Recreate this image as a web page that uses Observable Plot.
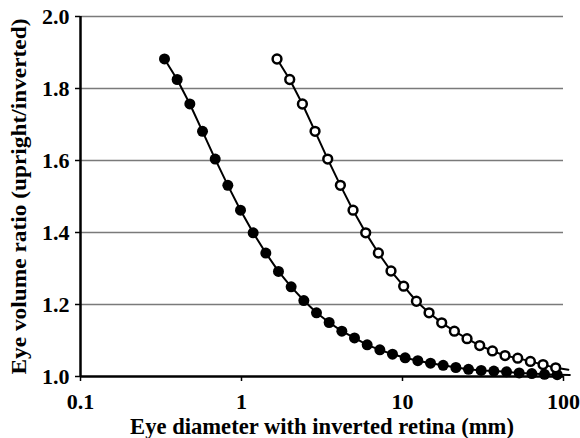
<!DOCTYPE html>
<html>
<head>
<meta charset="utf-8">
<script src="https://cdn.jsdelivr.net/npm/d3@7"></script>
<script src="https://cdn.jsdelivr.net/npm/@observablehq/plot@0.6"></script>
<style>
  html, body { margin: 0; padding: 0; background: #fff; }
  #chart svg { display: block; }
</style>
</head>
<body>
<div id="chart"></div>
<script>
// Filled circles: eye diameter (mm) and volume ratio
const filledDiameter = [0.3324, 0.3985, 0.4777, 0.5725, 0.6864, 0.8225, 0.9858, 1.1815, 1.416, 1.697,
  2.034, 2.439, 2.923, 3.503, 4.200, 5.033, 6.034, 7.233, 8.667, 10.39,
  12.45, 14.93, 17.89, 21.45, 25.70, 30.81, 36.93, 44.27, 53.05, 63.59,
  76.22, 91.36, 109.5];
const filledRatio = [1.882, 1.825, 1.757, 1.681, 1.604, 1.531, 1.462, 1.399, 1.343, 1.292,
  1.249, 1.211, 1.177, 1.150, 1.126, 1.107, 1.088, 1.074, 1.062, 1.052,
  1.044, 1.037, 1.031, 1.025, 1.020, 1.017, 1.015, 1.013, 1.010, 1.008,
  1.006, 1.005, 1.004];

// Open circles
const openDiameter = [1.662, 1.993, 2.389, 2.863, 3.432, 4.113, 4.929, 5.908, 7.08, 8.485,
  10.17, 12.2, 14.62, 17.52, 21.0, 25.17, 30.17, 36.17, 43.34, 51.95,
  62.27, 74.63, 89.45, 107.2];
const openRatio = [1.882, 1.825, 1.757, 1.681, 1.604, 1.531, 1.462, 1.399, 1.343, 1.293,
  1.251, 1.209, 1.177, 1.149, 1.126, 1.105, 1.086, 1.071, 1.058, 1.051,
  1.042, 1.033, 1.024, 1.019];

const xTicks = [0.1, 1, 10, 100];
const yTicks = [1.0, 1.2, 1.4, 1.6, 1.8, 2.0];
const gridValues = [1.2, 1.4, 1.6, 1.8, 2.0];
const xTitle = "Eye diameter with inverted retina (mm)";
const yTitle = "Eye volume ratio (upright/inverted)";

const filled = filledDiameter.map((d, i) => ({d, r: filledRatio[i]}));
const open = openDiameter.map((d, i) => ({d, r: openRatio[i]}));
const inRange = p => p.d <= 100;

const chart = Plot.plot({
  width: 580,
  height: 438,
  marginLeft: 80,
  marginRight: 17,
  marginTop: 16,
  marginBottom: 62,
  style: {fontFamily: "'Liberation Serif', 'Times New Roman', serif", fontWeight: "bold", fontSize: "22px", color: "#000", background: "#fff"},
  x: {type: "log", domain: [0.1, 100]},
  y: {domain: [1, 2]},
  marks: [
    Plot.ruleY(gridValues, {stroke: "#7a7a7a", strokeWidth: 1.5}),
    Plot.axisX({ticks: xTicks, tickFormat: d => String(d), tickSize: 5, tickPadding: 12, label: null, strokeWidth: 1.5, fontSize: 22}),
    Plot.axisY({ticks: yTicks, tickFormat: d => d.toFixed(1), tickSize: 5, tickPadding: 6, label: null, strokeWidth: 1.5, fontSize: 22}),
    Plot.ruleY([1], {stroke: "#000", strokeWidth: 2.5}),
    Plot.ruleX([0.1], {stroke: "#000", strokeWidth: 2.5}),
    Plot.line(filled, {x: "d", y: "r", stroke: "#000", strokeWidth: 2}),
    Plot.line(open, {x: "d", y: "r", stroke: "#000", strokeWidth: 2}),
    Plot.dot(filled.filter(inRange), {x: "d", y: "r", r: 5.5, fill: "#000", stroke: "none"}),
    Plot.dot(open.filter(inRange), {x: "d", y: "r", r: 4.4, fill: "#fff", stroke: "#000", strokeWidth: 2.5}),
    Plot.text([xTitle], {frameAnchor: "bottom", lineAnchor: "middle", dy: 50, fontSize: 22.6, fontWeight: "bold", fill: "#000", className: "xtitle"}),
    Plot.text([yTitle], {frameAnchor: "left", textAnchor: "middle", lineAnchor: "middle", rotate: -90, dx: -61, fontSize: 21.5, fontWeight: "bold", fill: "#000", className: "ytitle"})
  ]
});
// stretch the y title along its length to match the reference
const yt = chart.querySelector(".ytitle text");
if (yt) { yt.setAttribute("textLength", "356"); yt.setAttribute("lengthAdjust", "spacingAndGlyphs"); }
document.getElementById("chart").appendChild(chart);
</script>
</body>
</html>
